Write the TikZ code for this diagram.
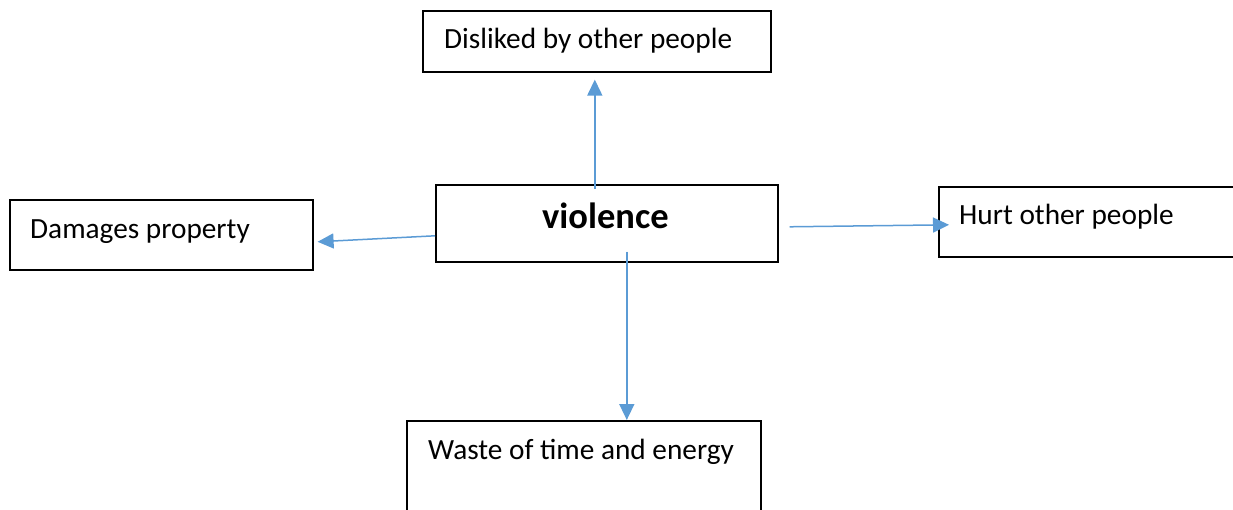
\documentclass[tikz,border=0pt]{standalone}
\usepackage{fontspec}
\setmainfont{Carlito}
\usetikzlibrary{arrows.meta}
\definecolor{linkblue}{HTML}{5B9BD5}
\tikzset{
  box/.style={draw=black, line width=1.6pt, rectangle, inner sep=0pt, anchor=north west},
  lbl/.style={anchor=base west, inner sep=0pt, font=\fontsize{29.3}{34}\selectfont},
  title/.style={anchor=base west, inner sep=0pt, font=\fontsize{36.5}{42}\selectfont\bfseries},
  link/.style={draw=linkblue, line width=1.5pt, -{Triangle[length=16pt,width=15pt]}, fill=linkblue},
}
\begin{document}
\begin{tikzpicture}[x=1pt,y=-1pt]
\useasboundingbox (0,0) rectangle (1233,510);
\begin{scope}
\clip (0,0) rectangle (1233,510);
% boxes
\node[box, minimum width=348pt, minimum height=61pt] (top) at (422,10) {};
\node[box, minimum width=303pt, minimum height=70pt] (left) at (9,199) {};
\node[box, minimum width=342pt, minimum height=77pt] (ctr) at (435,184) {};
\node[box, minimum width=310pt, minimum height=70pt] (right) at (938,186) {};
\node[box, minimum width=354pt, minimum height=100pt] (bottom) at (406,420) {};
\end{scope}
% texts
\node[lbl] (ttop) at (444,49) {Disliked by other people};
\node[lbl] (tleft) at (30,239) {Damages property};
\node[title] (tctr) at (542,228.5) {violence};
\node[lbl] (tright) at (959,225) {Hurt other people};
\node[lbl] (tbottom) at (428,459) {Waste of time and energy};
% connectors
\draw[link] ([xshift=-12pt,yshift=-5pt]ctr.north) -- ([xshift=-2pt,yshift=-7pt]top.south);
\draw[link] ([yshift=-12.5pt]ctr.west) -- ([xshift=4pt,yshift=-7pt]left.east);
\draw[link] ([xshift=11pt,yshift=-3.5pt]ctr.east) -- ([xshift=11pt,yshift=-3pt]right.west);
\draw[link] ([xshift=20pt,yshift=11pt]ctr.south) -- ([xshift=43pt]bottom.north);
\end{tikzpicture}
\end{document}
